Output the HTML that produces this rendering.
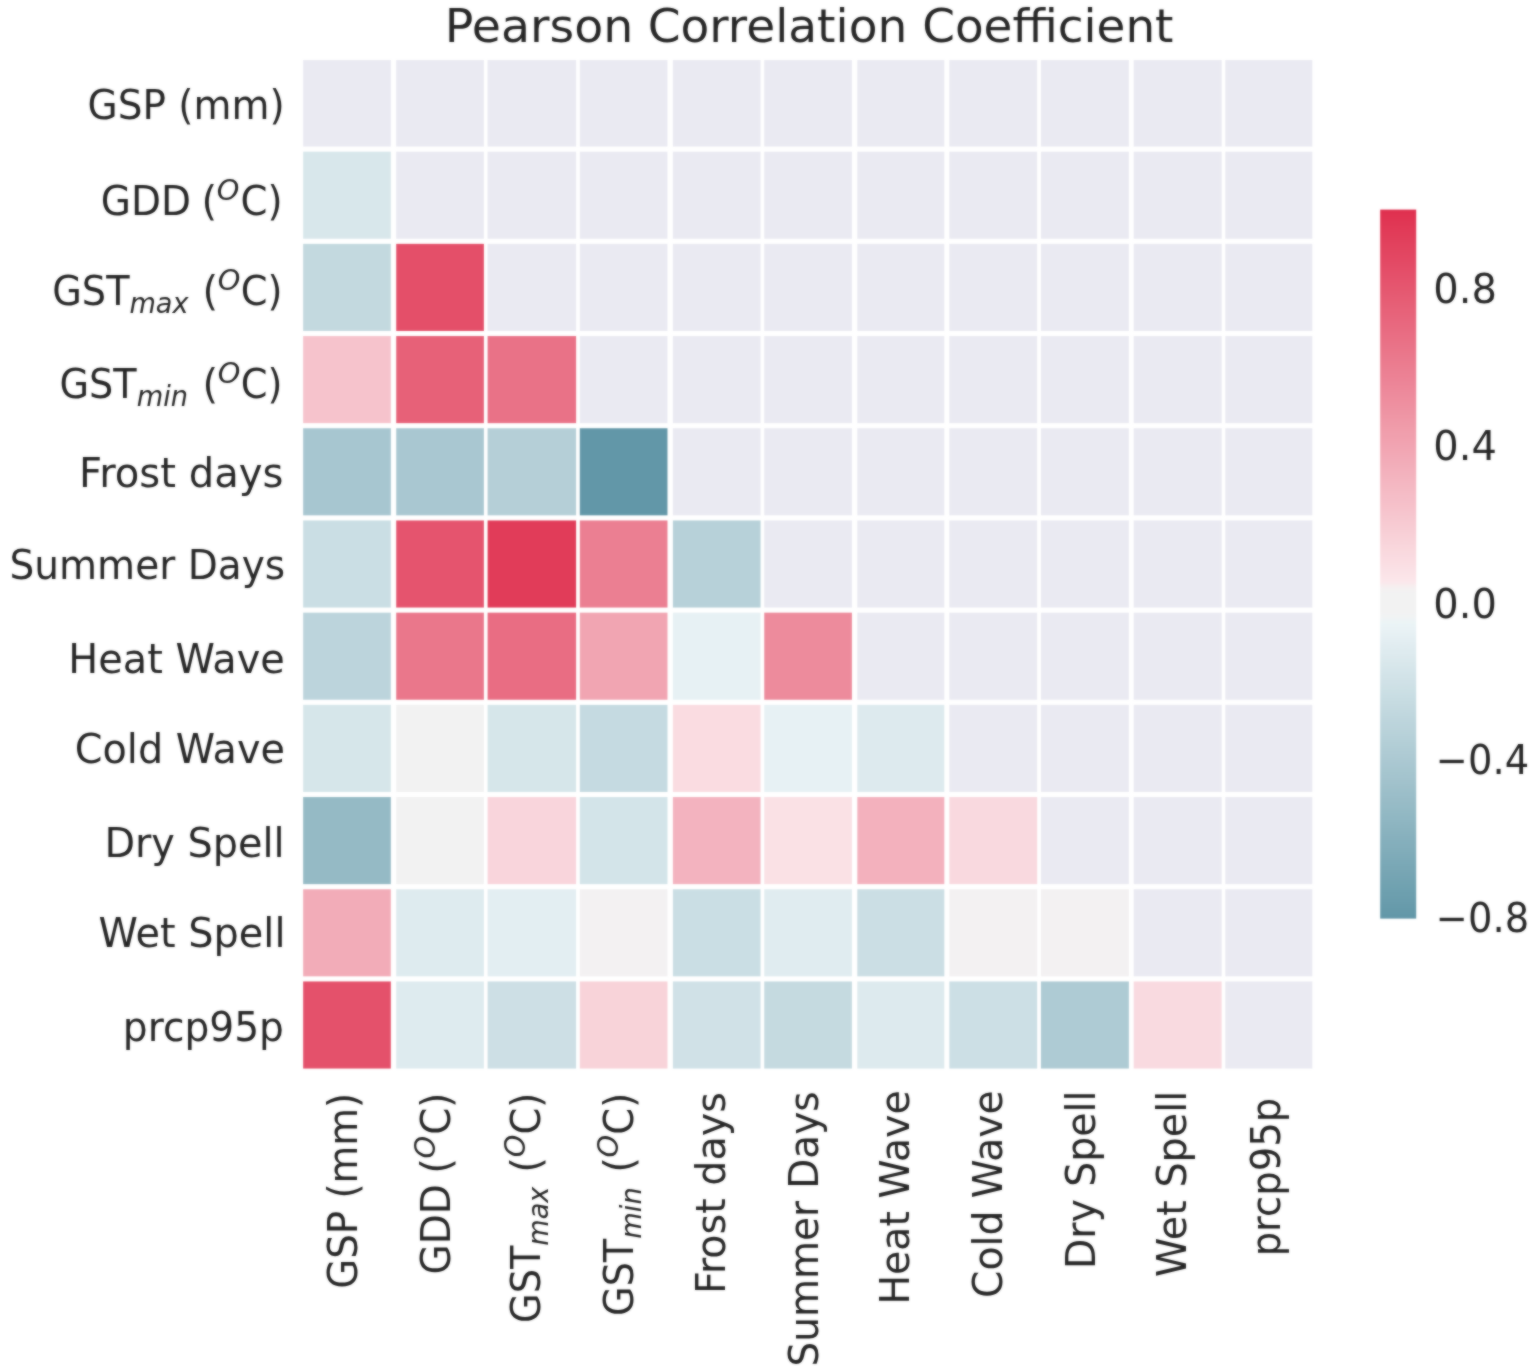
<!DOCTYPE html>
<html lang="en"><head><meta charset="utf-8"><title>Pearson Correlation Coefficient</title>
<style>
html,body{margin:0;padding:0;background:#fff;}
body{width:1538px;height:1372px;overflow:hidden;}
svg{display:block;}
#wrap{width:1538px;height:1372px;}
text{font-family:"DejaVu Sans","Liberation Sans",sans-serif;fill:#262626;}
.tk{font-size:40px;}
.ti{font-size:46px;}
.it{font-style:italic;font-size:28px;}
</style></head><body><div id="wrap">
<svg width="1538" height="1372" viewBox="0 0 1538 1372">
<defs>
<filter id="soft" filterUnits="userSpaceOnUse" x="0" y="0" width="1538" height="1372" color-interpolation-filters="sRGB"><feGaussianBlur in="SourceGraphic" stdDeviation="0.9" result="b"/><feComposite in="SourceGraphic" in2="b" operator="arithmetic" k1="0" k2="0.4" k3="0.6" k4="0"/></filter>
<linearGradient id="cbg" x1="0" y1="0" x2="0" y2="1">
<stop offset="0.0000" stop-color="#df304f"/>
<stop offset="0.0083" stop-color="#e03351"/>
<stop offset="0.0167" stop-color="#e03654"/>
<stop offset="0.0250" stop-color="#e13956"/>
<stop offset="0.0333" stop-color="#e13c59"/>
<stop offset="0.0417" stop-color="#e13f5b"/>
<stop offset="0.0500" stop-color="#e2425e"/>
<stop offset="0.0583" stop-color="#e24560"/>
<stop offset="0.0667" stop-color="#e34763"/>
<stop offset="0.0750" stop-color="#e34a65"/>
<stop offset="0.0833" stop-color="#e44d68"/>
<stop offset="0.0917" stop-color="#e4506a"/>
<stop offset="0.1000" stop-color="#e5536d"/>
<stop offset="0.1083" stop-color="#e5566f"/>
<stop offset="0.1167" stop-color="#e55971"/>
<stop offset="0.1250" stop-color="#e65c74"/>
<stop offset="0.1333" stop-color="#e65f76"/>
<stop offset="0.1417" stop-color="#e76279"/>
<stop offset="0.1500" stop-color="#e7647b"/>
<stop offset="0.1583" stop-color="#e8677e"/>
<stop offset="0.1667" stop-color="#e86a80"/>
<stop offset="0.1750" stop-color="#e96d83"/>
<stop offset="0.1833" stop-color="#e97085"/>
<stop offset="0.1917" stop-color="#e97388"/>
<stop offset="0.2000" stop-color="#ea768a"/>
<stop offset="0.2083" stop-color="#ea798d"/>
<stop offset="0.2167" stop-color="#eb7c8f"/>
<stop offset="0.2250" stop-color="#eb7f92"/>
<stop offset="0.2333" stop-color="#ec8194"/>
<stop offset="0.2417" stop-color="#ec8497"/>
<stop offset="0.2500" stop-color="#ed8799"/>
<stop offset="0.2583" stop-color="#ed8a9c"/>
<stop offset="0.2667" stop-color="#ee8d9e"/>
<stop offset="0.2750" stop-color="#ee90a0"/>
<stop offset="0.2833" stop-color="#ee93a3"/>
<stop offset="0.2917" stop-color="#ef96a5"/>
<stop offset="0.3000" stop-color="#ef99a8"/>
<stop offset="0.3083" stop-color="#f09caa"/>
<stop offset="0.3167" stop-color="#f09fad"/>
<stop offset="0.3250" stop-color="#f1a1af"/>
<stop offset="0.3333" stop-color="#f1a4b2"/>
<stop offset="0.3417" stop-color="#f2a7b4"/>
<stop offset="0.3500" stop-color="#f2aab7"/>
<stop offset="0.3583" stop-color="#f2adb9"/>
<stop offset="0.3667" stop-color="#f3b0bc"/>
<stop offset="0.3750" stop-color="#f3b3be"/>
<stop offset="0.3833" stop-color="#f4b6c1"/>
<stop offset="0.3917" stop-color="#f4b9c3"/>
<stop offset="0.4000" stop-color="#f5bcc6"/>
<stop offset="0.4083" stop-color="#f5bec8"/>
<stop offset="0.4167" stop-color="#f6c1ca"/>
<stop offset="0.4250" stop-color="#f6c4cd"/>
<stop offset="0.4333" stop-color="#f6c7cf"/>
<stop offset="0.4417" stop-color="#f7cad2"/>
<stop offset="0.4500" stop-color="#f7cdd4"/>
<stop offset="0.4583" stop-color="#f8d0d7"/>
<stop offset="0.4667" stop-color="#f8d3d9"/>
<stop offset="0.4750" stop-color="#f9d6dc"/>
<stop offset="0.4833" stop-color="#f9d9de"/>
<stop offset="0.4917" stop-color="#fadbe1"/>
<stop offset="0.5000" stop-color="#fadee3"/>
<stop offset="0.5083" stop-color="#fae1e6"/>
<stop offset="0.5167" stop-color="#fbe4e8"/>
<stop offset="0.5250" stop-color="#fbe7eb"/>
<stop offset="0.5333" stop-color="#f5f0f1"/>
<stop offset="0.5417" stop-color="#f2f2f2"/>
<stop offset="0.5500" stop-color="#f2f2f2"/>
<stop offset="0.5583" stop-color="#f2f2f2"/>
<stop offset="0.5667" stop-color="#f2f2f2"/>
<stop offset="0.5750" stop-color="#f1f3f4"/>
<stop offset="0.5833" stop-color="#ebf4f6"/>
<stop offset="0.5917" stop-color="#e9f2f5"/>
<stop offset="0.6000" stop-color="#e6f0f3"/>
<stop offset="0.6083" stop-color="#e3eef2"/>
<stop offset="0.6167" stop-color="#e0ecf0"/>
<stop offset="0.6250" stop-color="#deebef"/>
<stop offset="0.6333" stop-color="#dbe9ed"/>
<stop offset="0.6417" stop-color="#d8e7eb"/>
<stop offset="0.6500" stop-color="#d5e5ea"/>
<stop offset="0.6583" stop-color="#d2e3e8"/>
<stop offset="0.6667" stop-color="#d0e1e7"/>
<stop offset="0.6750" stop-color="#cde0e5"/>
<stop offset="0.6833" stop-color="#cadee4"/>
<stop offset="0.6917" stop-color="#c7dce2"/>
<stop offset="0.7000" stop-color="#c5dae0"/>
<stop offset="0.7083" stop-color="#c2d8df"/>
<stop offset="0.7167" stop-color="#bfd6dd"/>
<stop offset="0.7250" stop-color="#bcd4dc"/>
<stop offset="0.7333" stop-color="#bad3da"/>
<stop offset="0.7417" stop-color="#b7d1d9"/>
<stop offset="0.7500" stop-color="#b4cfd7"/>
<stop offset="0.7583" stop-color="#b1cdd5"/>
<stop offset="0.7667" stop-color="#afcbd4"/>
<stop offset="0.7750" stop-color="#acc9d2"/>
<stop offset="0.7833" stop-color="#a9c7d1"/>
<stop offset="0.7917" stop-color="#a6c6cf"/>
<stop offset="0.8000" stop-color="#a4c4ce"/>
<stop offset="0.8083" stop-color="#a1c2cc"/>
<stop offset="0.8167" stop-color="#9ec0ca"/>
<stop offset="0.8250" stop-color="#9bbec9"/>
<stop offset="0.8333" stop-color="#99bcc7"/>
<stop offset="0.8417" stop-color="#96bbc6"/>
<stop offset="0.8500" stop-color="#93b9c4"/>
<stop offset="0.8583" stop-color="#90b7c3"/>
<stop offset="0.8667" stop-color="#8eb5c1"/>
<stop offset="0.8750" stop-color="#8bb3bf"/>
<stop offset="0.8833" stop-color="#88b1be"/>
<stop offset="0.8917" stop-color="#85afbc"/>
<stop offset="0.9000" stop-color="#83aebb"/>
<stop offset="0.9083" stop-color="#80acb9"/>
<stop offset="0.9167" stop-color="#7daab8"/>
<stop offset="0.9250" stop-color="#7aa8b6"/>
<stop offset="0.9333" stop-color="#78a6b4"/>
<stop offset="0.9417" stop-color="#75a4b3"/>
<stop offset="0.9500" stop-color="#72a3b1"/>
<stop offset="0.9583" stop-color="#6fa1b0"/>
<stop offset="0.9667" stop-color="#6d9fae"/>
<stop offset="0.9750" stop-color="#6a9dad"/>
<stop offset="0.9833" stop-color="#679bab"/>
<stop offset="0.9917" stop-color="#6499a9"/>
<stop offset="1.0000" stop-color="#6297a8"/>
</linearGradient></defs>
<g id="chart" filter="url(#soft)">
<rect x="0" y="0" width="1538" height="1372" fill="#ffffff"/>
<g id="heatmap">
<rect x="301.30" y="57.50" width="1012.90" height="1013.60" fill="#EAEAF2"/>
<rect x="301.30" y="149.10" width="92.22" height="92.20" fill="#d8e7eb"/>
<rect x="301.30" y="241.30" width="92.22" height="92.20" fill="#c3d9df"/>
<rect x="393.52" y="241.30" width="92.22" height="92.20" fill="#e44f69"/>
<rect x="301.30" y="333.50" width="92.22" height="92.20" fill="#f6c3cc"/>
<rect x="393.52" y="333.50" width="92.22" height="92.20" fill="#e76178"/>
<rect x="485.74" y="333.50" width="92.22" height="92.20" fill="#e97287"/>
<rect x="301.30" y="425.70" width="92.22" height="92.20" fill="#a7c6d0"/>
<rect x="393.52" y="425.70" width="92.22" height="92.20" fill="#a9c7d1"/>
<rect x="485.74" y="425.70" width="92.22" height="92.20" fill="#b5cfd7"/>
<rect x="577.96" y="425.70" width="92.22" height="92.20" fill="#6297a8"/>
<rect x="301.30" y="517.90" width="92.22" height="92.20" fill="#cadee4"/>
<rect x="393.52" y="517.90" width="92.22" height="92.20" fill="#e5546e"/>
<rect x="485.74" y="517.90" width="92.22" height="92.20" fill="#e13c59"/>
<rect x="577.96" y="517.90" width="92.22" height="92.20" fill="#eb7f92"/>
<rect x="670.18" y="517.90" width="92.22" height="92.20" fill="#b7d1d9"/>
<rect x="301.30" y="610.10" width="92.22" height="92.20" fill="#bcd4dc"/>
<rect x="393.52" y="610.10" width="92.22" height="92.20" fill="#ea778b"/>
<rect x="485.74" y="610.10" width="92.22" height="92.20" fill="#e96d83"/>
<rect x="577.96" y="610.10" width="92.22" height="92.20" fill="#f1a5b2"/>
<rect x="670.18" y="610.10" width="92.22" height="92.20" fill="#e7f1f4"/>
<rect x="762.40" y="610.10" width="92.22" height="92.20" fill="#ed8b9c"/>
<rect x="301.30" y="702.30" width="92.22" height="92.20" fill="#d6e6ea"/>
<rect x="393.52" y="702.30" width="92.22" height="92.20" fill="#f2f2f2"/>
<rect x="485.74" y="702.30" width="92.22" height="92.20" fill="#d6e6ea"/>
<rect x="577.96" y="702.30" width="92.22" height="92.20" fill="#c5dae1"/>
<rect x="670.18" y="702.30" width="92.22" height="92.20" fill="#fadce1"/>
<rect x="762.40" y="702.30" width="92.22" height="92.20" fill="#e7f1f4"/>
<rect x="854.62" y="702.30" width="92.22" height="92.20" fill="#ddeaee"/>
<rect x="301.30" y="794.50" width="92.22" height="92.20" fill="#95bac5"/>
<rect x="393.52" y="794.50" width="92.22" height="92.20" fill="#f2f2f2"/>
<rect x="485.74" y="794.50" width="92.22" height="92.20" fill="#f9d5dc"/>
<rect x="577.96" y="794.50" width="92.22" height="92.20" fill="#d3e4e9"/>
<rect x="670.18" y="794.50" width="92.22" height="92.20" fill="#f3b3bf"/>
<rect x="762.40" y="794.50" width="92.22" height="92.20" fill="#fae1e5"/>
<rect x="854.62" y="794.50" width="92.22" height="92.20" fill="#f3b1bd"/>
<rect x="946.84" y="794.50" width="92.22" height="92.20" fill="#f9d9df"/>
<rect x="301.30" y="886.70" width="92.22" height="92.20" fill="#f2acb8"/>
<rect x="393.52" y="886.70" width="92.22" height="92.20" fill="#deebef"/>
<rect x="485.74" y="886.70" width="92.22" height="92.20" fill="#e3eef2"/>
<rect x="577.96" y="886.70" width="92.22" height="92.20" fill="#f3f1f2"/>
<rect x="670.18" y="886.70" width="92.22" height="92.20" fill="#cadee4"/>
<rect x="762.40" y="886.70" width="92.22" height="92.20" fill="#e0ecf0"/>
<rect x="854.62" y="886.70" width="92.22" height="92.20" fill="#cbdee4"/>
<rect x="946.84" y="886.70" width="92.22" height="92.20" fill="#f3f1f2"/>
<rect x="1039.06" y="886.70" width="92.22" height="92.20" fill="#f3f1f2"/>
<rect x="301.30" y="978.90" width="92.22" height="92.20" fill="#e4516b"/>
<rect x="393.52" y="978.90" width="92.22" height="92.20" fill="#deebef"/>
<rect x="485.74" y="978.90" width="92.22" height="92.20" fill="#cddfe5"/>
<rect x="577.96" y="978.90" width="92.22" height="92.20" fill="#f8d3d9"/>
<rect x="670.18" y="978.90" width="92.22" height="92.20" fill="#d0e1e7"/>
<rect x="762.40" y="978.90" width="92.22" height="92.20" fill="#c5dae0"/>
<rect x="854.62" y="978.90" width="92.22" height="92.20" fill="#ddeaee"/>
<rect x="946.84" y="978.90" width="92.22" height="92.20" fill="#ccdfe5"/>
<rect x="1039.06" y="978.90" width="92.22" height="92.20" fill="#aecbd4"/>
<rect x="1131.28" y="978.90" width="92.22" height="92.20" fill="#f9dae0"/>
<rect x="299.45" y="54.95" width="3.70" height="1018.70" fill="#fff"/>
<rect x="390.82" y="54.95" width="5.40" height="1018.70" fill="#fff"/>
<rect x="483.89" y="54.95" width="3.70" height="1018.70" fill="#fff"/>
<rect x="576.11" y="54.95" width="3.70" height="1018.70" fill="#fff"/>
<rect x="667.48" y="54.95" width="5.40" height="1018.70" fill="#fff"/>
<rect x="760.55" y="54.95" width="3.70" height="1018.70" fill="#fff"/>
<rect x="851.92" y="54.95" width="5.40" height="1018.70" fill="#fff"/>
<rect x="944.34" y="54.95" width="5.00" height="1018.70" fill="#fff"/>
<rect x="1037.21" y="54.95" width="3.70" height="1018.70" fill="#fff"/>
<rect x="1128.88" y="54.95" width="4.80" height="1018.70" fill="#fff"/>
<rect x="1221.65" y="54.95" width="3.70" height="1018.70" fill="#fff"/>
<rect x="1312.35" y="54.95" width="3.70" height="1018.70" fill="#fff"/>
<rect x="299.45" y="54.95" width="1016.60" height="5.10" fill="#fff"/>
<rect x="299.45" y="146.55" width="1016.60" height="5.10" fill="#fff"/>
<rect x="299.45" y="238.75" width="1016.60" height="5.10" fill="#fff"/>
<rect x="299.45" y="330.95" width="1016.60" height="5.10" fill="#fff"/>
<rect x="299.45" y="423.15" width="1016.60" height="5.10" fill="#fff"/>
<rect x="299.45" y="515.35" width="1016.60" height="5.10" fill="#fff"/>
<rect x="299.45" y="607.55" width="1016.60" height="5.10" fill="#fff"/>
<rect x="299.45" y="699.75" width="1016.60" height="5.10" fill="#fff"/>
<rect x="299.45" y="791.95" width="1016.60" height="5.10" fill="#fff"/>
<rect x="299.45" y="884.15" width="1016.60" height="5.10" fill="#fff"/>
<rect x="299.45" y="976.35" width="1016.60" height="5.10" fill="#fff"/>
<rect x="299.45" y="1068.55" width="1016.60" height="5.10" fill="#fff"/>
</g>
<rect x="1380.20" y="209.60" width="36.00" height="709.00" fill="url(#cbg)"/>
<g id="title"><text><tspan class="ti" x="444.78" y="41.60" textLength="188.51" lengthAdjust="spacingAndGlyphs">Pearson</tspan> <tspan class="ti" x="647.68" y="41.60" textLength="259.60" lengthAdjust="spacingAndGlyphs">Correlation</tspan> <tspan class="ti" x="922.17" y="41.60" textLength="251.34" lengthAdjust="spacingAndGlyphs">Coefficient</tspan></text></g>
<g id="cbticks">
<text><tspan class="tk" x="1433.26" y="303.20" textLength="63.68" lengthAdjust="spacingAndGlyphs">0.8</tspan></text>
<text><tspan class="tk" x="1433.26" y="460.30" textLength="63.58" lengthAdjust="spacingAndGlyphs">0.4</tspan></text>
<text><tspan class="tk" x="1433.26" y="617.50" textLength="63.59" lengthAdjust="spacingAndGlyphs">0.0</tspan></text>
<text><tspan class="tk" x="1435.83" y="773.60" textLength="93.33" lengthAdjust="spacingAndGlyphs">−0.4</tspan></text>
<text><tspan class="tk" x="1435.83" y="931.80" textLength="93.30" lengthAdjust="spacingAndGlyphs">−0.8</tspan></text>
</g>
<g id="ylabels">
<text><tspan class="tk" x="87.51" y="118.50" textLength="197.14" lengthAdjust="spacingAndGlyphs">GSP (mm)</tspan></text>
<text><tspan class="tk" x="100.71" y="214.70" textLength="90.29" lengthAdjust="spacingAndGlyphs">GDD</tspan> <tspan class="tk" x="201.46" y="214.70" textLength="15.61" lengthAdjust="spacingAndGlyphs">(</tspan><tspan class="it" x="216.75" y="199.90" textLength="22.60" lengthAdjust="spacingAndGlyphs">O</tspan><tspan class="tk" x="240.53" y="214.70" textLength="42.10" lengthAdjust="spacingAndGlyphs">C)</tspan></text>
<text><tspan class="tk" x="52.25" y="305.00" textLength="77.23" lengthAdjust="spacingAndGlyphs">GST</tspan><tspan class="it" x="129.45" y="313.00" textLength="59.13" lengthAdjust="spacingAndGlyphs">max</tspan> <tspan class="tk" x="202.56" y="305.00" textLength="15.61" lengthAdjust="spacingAndGlyphs">(</tspan><tspan class="it" x="217.85" y="290.10" textLength="22.60" lengthAdjust="spacingAndGlyphs">O</tspan><tspan class="tk" x="240.75" y="305.00" textLength="41.75" lengthAdjust="spacingAndGlyphs">C)</tspan></text>
<text><tspan class="tk" x="59.46" y="398.30" textLength="77.13" lengthAdjust="spacingAndGlyphs">GST</tspan><tspan class="it" x="136.74" y="405.70" textLength="51.30" lengthAdjust="spacingAndGlyphs">min</tspan> <tspan class="tk" x="202.56" y="398.30" textLength="15.61" lengthAdjust="spacingAndGlyphs">(</tspan><tspan class="it" x="217.85" y="383.40" textLength="22.60" lengthAdjust="spacingAndGlyphs">O</tspan><tspan class="tk" x="240.75" y="398.30" textLength="41.75" lengthAdjust="spacingAndGlyphs">C)</tspan></text>
<text><tspan class="tk" x="79.03" y="486.70" textLength="204.39" lengthAdjust="spacingAndGlyphs">Frost days</tspan></text>
<text><tspan class="tk" x="9.53" y="579.30" textLength="275.58" lengthAdjust="spacingAndGlyphs">Summer Days</tspan></text>
<text><tspan class="tk" x="68.33" y="672.50" textLength="216.56" lengthAdjust="spacingAndGlyphs">Heat Wave</tspan></text>
<text><tspan class="tk" x="74.79" y="763.20" textLength="210.10" lengthAdjust="spacingAndGlyphs">Cold Wave</tspan></text>
<text><tspan class="tk" x="104.40" y="856.80" textLength="180.23" lengthAdjust="spacingAndGlyphs">Dry Spell</tspan></text>
<text><tspan class="tk" x="98.59" y="947.10" textLength="186.89" lengthAdjust="spacingAndGlyphs">Wet Spell</tspan></text>
<text><tspan class="tk" x="122.86" y="1040.50" textLength="161.06" lengthAdjust="spacingAndGlyphs">prcp95p</tspan></text>
</g>
<g id="xlabels">
<g transform="translate(357.00 1096.10) rotate(-90)"><text><tspan class="tk" x="-192.78" y="0.00" textLength="196.11" lengthAdjust="spacingAndGlyphs">GSP (mm)</tspan></text></g>
<g transform="translate(449.50 1096.00) rotate(-90)"><text><tspan class="tk" x="-178.59" y="0.00" textLength="90.29" lengthAdjust="spacingAndGlyphs">GDD</tspan> <tspan class="tk" x="-77.84" y="0.00" textLength="15.61" lengthAdjust="spacingAndGlyphs">(</tspan><tspan class="it" x="-62.55" y="-14.80" textLength="22.60" lengthAdjust="spacingAndGlyphs">O</tspan><tspan class="tk" x="-38.77" y="0.00" textLength="42.10" lengthAdjust="spacingAndGlyphs">C)</tspan></text></g>
<g transform="translate(540.00 1096.00) rotate(-90)"><text><tspan class="tk" x="-226.95" y="0.00" textLength="77.23" lengthAdjust="spacingAndGlyphs">GST</tspan><tspan class="it" x="-149.75" y="8.00" textLength="59.13" lengthAdjust="spacingAndGlyphs">max</tspan> <tspan class="tk" x="-76.64" y="0.00" textLength="15.61" lengthAdjust="spacingAndGlyphs">(</tspan><tspan class="it" x="-61.35" y="-14.90" textLength="22.60" lengthAdjust="spacingAndGlyphs">O</tspan><tspan class="tk" x="-38.45" y="0.00" textLength="41.75" lengthAdjust="spacingAndGlyphs">C)</tspan></text></g>
<g transform="translate(633.10 1096.20) rotate(-90)"><text><tspan class="tk" x="-219.74" y="0.00" textLength="77.13" lengthAdjust="spacingAndGlyphs">GST</tspan><tspan class="it" x="-142.46" y="7.40" textLength="51.30" lengthAdjust="spacingAndGlyphs">min</tspan> <tspan class="tk" x="-76.64" y="0.00" textLength="15.61" lengthAdjust="spacingAndGlyphs">(</tspan><tspan class="it" x="-61.35" y="-14.90" textLength="22.60" lengthAdjust="spacingAndGlyphs">O</tspan><tspan class="tk" x="-38.45" y="0.00" textLength="41.75" lengthAdjust="spacingAndGlyphs">C)</tspan></text></g>
<g transform="translate(724.70 1094.00) rotate(-90)"><text><tspan class="tk" x="-200.02" y="0.00" textLength="201.92" lengthAdjust="spacingAndGlyphs">Frost days</tspan></text></g>
<g transform="translate(817.80 1093.30) rotate(-90)"><text><tspan class="tk" x="-273.17" y="0.00" textLength="275.07" lengthAdjust="spacingAndGlyphs">Summer Days</tspan></text></g>
<g transform="translate(908.60 1092.40) rotate(-90)"><text><tspan class="tk" x="-212.23" y="0.00" textLength="214.30" lengthAdjust="spacingAndGlyphs">Heat Wave</tspan></text></g>
<g transform="translate(1001.90 1092.40) rotate(-90)"><text><tspan class="tk" x="-205.58" y="0.00" textLength="207.65" lengthAdjust="spacingAndGlyphs">Cold Wave</tspan></text></g>
<g transform="translate(1095.00 1094.20) rotate(-90)"><text><tspan class="tk" x="-174.87" y="0.00" textLength="178.56" lengthAdjust="spacingAndGlyphs">Dry Spell</tspan></text></g>
<g transform="translate(1185.50 1094.40) rotate(-90)"><text><tspan class="tk" x="-182.70" y="0.00" textLength="186.38" lengthAdjust="spacingAndGlyphs">Wet Spell</tspan></text></g>
<g transform="translate(1280.40 1099.90) rotate(-90)"><text><tspan class="tk" x="-156.48" y="0.00" textLength="158.58" lengthAdjust="spacingAndGlyphs">prcp95p</tspan></text></g>
</g>
</g>
</svg>
</div></body></html>
